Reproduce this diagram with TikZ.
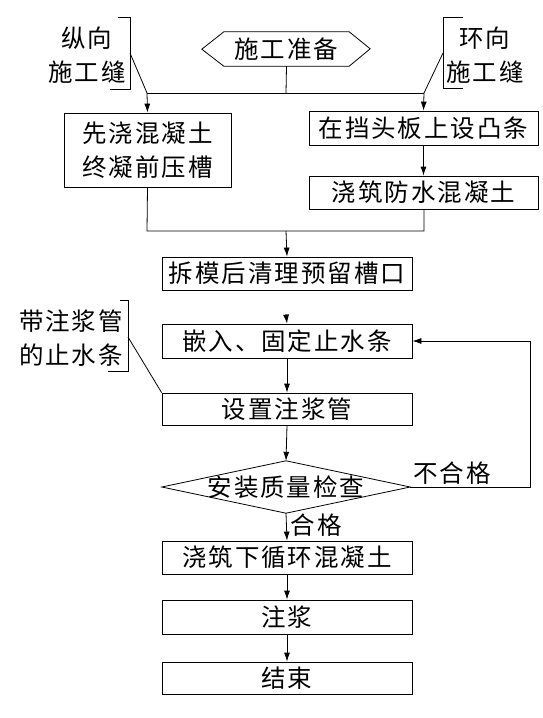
\documentclass[tikz,border=0pt]{standalone}
\usepackage{fontspec}
\usetikzlibrary{arrows.meta}
\newfontfamily\cjk[LetterSpace=8]{Noto Sans CJK SC}
\tikzset{
  txt/.style={font=\cjk\fontsize{24.5}{34}\selectfont, inner sep=0pt, align=center},
  stepbox/.style={txt, draw, line width=0.8pt},
  conn/.style={line width=0.8pt},
  arr/.style={conn, -{Latex[length=9pt,width=6pt]}},
}
\begin{document}
\begin{tikzpicture}[x=1pt,y=-1pt]
\useasboundingbox (0,0) rectangle (542,718);
% start hexagon
\node[txt, minimum width=125pt, minimum height=34pt] (prep) at (286.5,49) {施工准备};
\draw[conn] (prep.north west) -- (prep.north east) -- ++(21,17) -- (prep.south east)
  -- (prep.south west) -- ++(-22,-17) -- cycle;
% boxes
\node[stepbox, minimum width=167pt, minimum height=74pt] (b1) at (147.5,150) {先浇混凝土\\终凝前压槽};
\node[stepbox, minimum width=229pt, minimum height=34pt] (b2) at (423.5,128) {在挡头板上设凸条};
\node[stepbox, minimum width=229pt, minimum height=33pt] (b3) at (423.5,192.5) {浇筑防水混凝土};
\node[stepbox, minimum width=250pt, minimum height=33pt] (b4) at (287,273.5) {拆模后清理预留槽口};
\node[stepbox, minimum width=250pt, minimum height=34pt] (b5) at (287,341) {嵌入、固定止水条};
\node[stepbox, minimum width=250pt, minimum height=32pt] (b6) at (287,409) {设置注浆管};
\node[txt, minimum width=248pt, minimum height=52pt] (d) at (286,487) {安装质量检查};
\draw[conn] (d.west) -- (d.north) -- (d.east) -- (d.south) -- cycle;
\node[stepbox, minimum width=250pt, minimum height=33pt] (b7) at (287,557.5) {浇筑下循环混凝土};
\node[stepbox, minimum width=250pt, minimum height=34pt] (b8) at (287,617) {注浆};
\node[stepbox, minimum width=250pt, minimum height=32pt] (b9) at (287,678) {结束};
% annotations
\node[txt] (lab1) at (87,55) {纵向\\施工缝};
\node[txt] (lab2) at (485,55) {环向\\施工缝};
\node[txt] (lab3) at (71,338.5) {带注浆管\\的止水条};
% junctions
\coordinate (j1) at (147,93);
\coordinate (j2) at (424,93);
\coordinate (jm) at (286,93);
\coordinate (k1) at (147,231);
\coordinate (k2) at (424,231);
\coordinate (km) at (286,231);
\coordinate (gap) at (286,314);
\coordinate (r1) at (530,487);
\coordinate (r2) at (530,341);
% brackets
\coordinate (br1a) at (130,17); \coordinate (br1m) at (130,53); \coordinate (br1b) at (130,89);
\draw[conn] (118,17) -- (br1a) -- (br1b) -- (110,89);
\draw[conn] (br1m) -- (j1);
\coordinate (br2a) at (443,17); \coordinate (br2m) at (443,53); \coordinate (br2b) at (443,88);
\draw[conn] (463,17) -- (br2a) -- (br2b) -- (463,88);
\draw[conn] (br2m) -- (j2);
\coordinate (br3a) at (128,300); \coordinate (br3m) at (128,337); \coordinate (br3b) at (128,371);
\draw[conn] (120,300) -- (br3a) -- (br3b) -- (108,371);
\draw[conn] (br3m) -- (b6.north west);
% connectors
\draw[conn] (prep.south) -- (jm);
\draw[conn] (j1) -- (j2);
\draw[arr] (j1) -- (b1.north);
\draw[arr] (j2) -- (b2.north);
\draw[arr] (b2.south) -- (b3.north);
\draw[conn] (b1.south) -- (k1) -- (k2) -- (b3.south -| k2);
\draw[arr] (km) -- (b4.north);
\draw[arr] (gap) -- (b5.north);
\draw[arr] (b5.south) -- (b6.north);
\draw[arr] (b6.south) -- (d.north);
\draw[arr] (d.south) -- node[txt, right=4pt, pos=0.45] {合格} (b7.north);
\draw[arr] (b7.south) -- (b8.north);
\draw[arr] (b8.south) -- (b9.north);
\draw[arr] (d.east) -- (r1) -- (r2) -- (b5.east);
\node[txt] (ng) at (452,473) {不合格};
\end{tikzpicture}
\end{document}
